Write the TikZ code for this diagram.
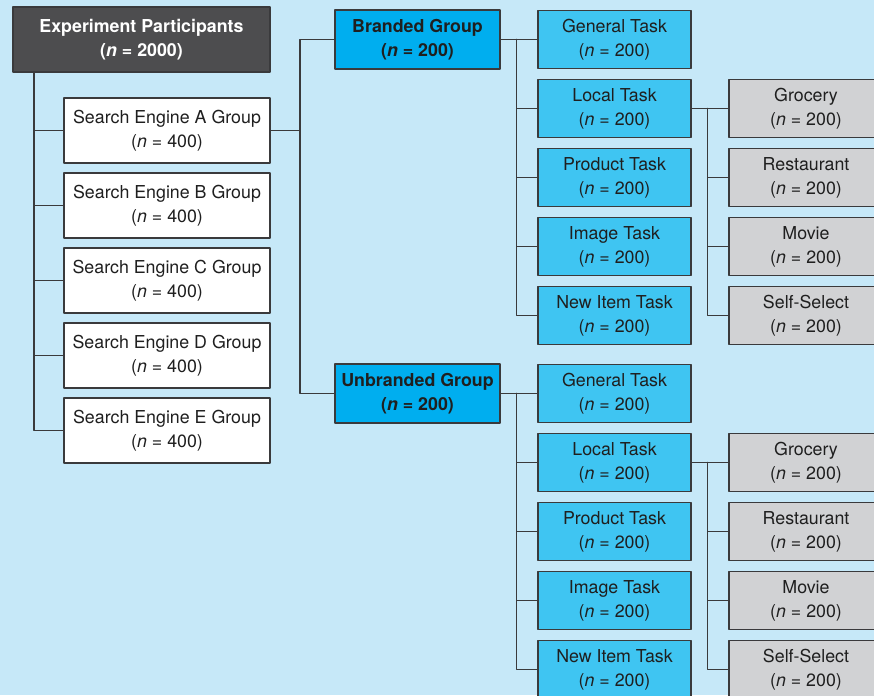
\documentclass[tikz,border=0pt]{standalone}
\usepackage{fontspec}
\setmainfont{TeX Gyre Heros}
\usepackage{xcolor}
\definecolor{skybg}{HTML}{C6E8F8}
\definecolor{rootgray}{HTML}{4D4D4F}
\definecolor{groupblue}{HTML}{00AEEF}
\definecolor{taskblue}{HTML}{3FC5F2}
\definecolor{subgray}{HTML}{D1D2D4}
\definecolor{linegray}{HTML}{3A3A3C}
\tikzset{
  every picture/.style={line join=round, line cap=round},
  box/.style={draw=linegray, line width=1.3pt, align=center, inner sep=0pt,
    text=black!88, font=\fontsize{17.8}{24}\selectfont},
  rootbox/.style={box, fill=rootgray, text=white, font=\fontsize{17.8}{24}\selectfont\bfseries,
    minimum width=257, minimum height=65},
  enginebox/.style={box, fill=white, minimum width=206, minimum height=65},
  groupbox/.style={box, fill=groupblue, font=\fontsize{17.8}{24}\selectfont\bfseries,
    minimum width=165, minimum height=59},
  taskbox/.style={box, fill=taskblue, minimum width=153, minimum height=58},
  subbox/.style={box, fill=subgray, minimum width=154, minimum height=58},
  link/.style={draw=linegray, line width=1.3pt},
}
\newcommand{\nval}[1]{(\textit{n} = #1)}

\begin{document}
\begin{tikzpicture}[x=1pt, y=-1pt]
\useasboundingbox (0,0) rectangle (874,695);
\fill[skybg] (0,0) rectangle (874,695);
\clip (0,0) rectangle (874,695);
% root and search engine groups
\node[rootbox] (root) at (141.5,39.5) {Experiment Participants\\\nval{2000}};
\foreach \y/\s in {130.5/A,205.5/B,280.5/C,355.5/D,430.5/E}{
  \node[enginebox] (se\s) at (167,\y) {Search Engine \s{} Group\\\nval{400}};}
\coordinate (rt) at (34,72);
\foreach \s in {A,B,C,D,E}{\draw[link] (rt) |- (se\s.west);}
% branded / unbranded
\node[groupbox] (brand) at (417.5,39.5) {Branded Group\\\nval{200}};
\node[groupbox] (unbrand) at (417.5,393.5) {Unbranded Group\\\nval{200}};
\draw[link] (seA.east) -- (300,130.5) coordinate (gj);
\draw[link] (gj) |- (brand.west);
\draw[link] (gj) |- (unbrand.west);
% tasks
\foreach \g/\y in {brand/39.5,unbrand/393.5}{
  \foreach \t/\k in {General Task/1,Local Task/2,Product Task/3,Image Task/4,New Item Task/5}{
    \node[taskbox] (\g t\k) at (614.5,{\y+69*(\k-1)}) {\t\\\nval{200}};}
  \draw[link] (\g.east) -- ++(16,0) coordinate (\g j);
  \foreach \k in {1,...,5}{\draw[link] (\g j) |- (\g t\k.west);}
  % local task subtypes
  \foreach \c/\k in {Grocery/2,Restaurant/3,Movie/4,Self-Select/5}{
    \node[subbox] (\g c\k) at (806,{\y+69*(\k-1)}) {\c\\\nval{200}};}
  \draw[link] (\g t2.east) -- ++(16,0) coordinate (\g lj);
  \foreach \k in {2,...,5}{\draw[link] (\g lj) |- (\g c\k.west);}
}
\end{tikzpicture}
\end{document}
